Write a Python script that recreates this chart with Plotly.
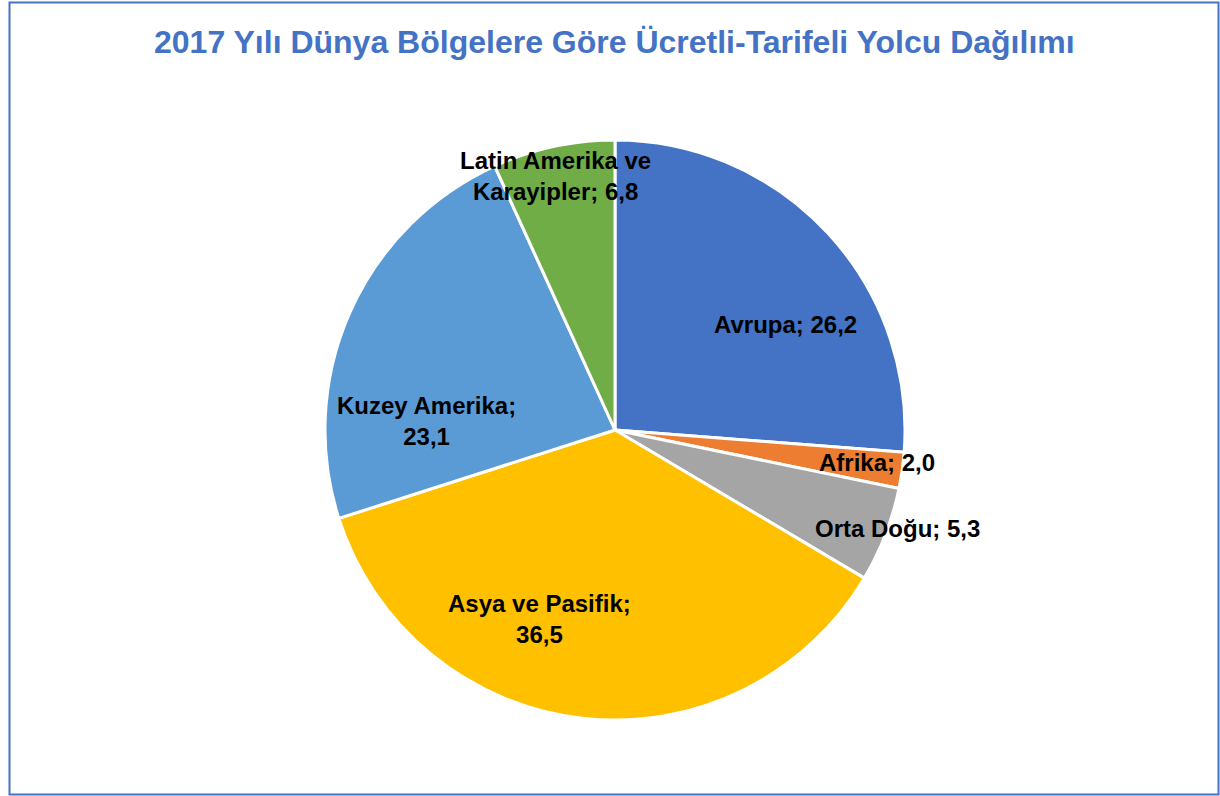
import math
import plotly.graph_objects as go

# Data
regions = ["Avrupa", "Afrika", "Orta Doğu", "Asya ve Pasifik", "Kuzey Amerika", "Latin Amerika ve Karayipler"]
label_texts = ["Avrupa; 26,2", "Afrika; 2,0", "Orta Doğu; 5,3", "Asya ve Pasifik;<br>36,5",
               "Kuzey Amerika;<br>23,1", "Latin Amerika ve<br>Karayipler; 6,8"]
values = [26.2, 2.0, 5.3, 36.5, 23.1, 6.8]
colors = ["#4472C4", "#ED7D31", "#A5A5A5", "#FFC000", "#5B9BD5", "#70AD47"]

# Label placement style (angle offset in degrees, radial fraction)
label_angle_offset = [11, -1, -2, 15.3, -21.2, -1]
label_radius = [0.69, 0.91, 1.03, 0.70, 0.65, 0.90]

W, H = 1220, 796
cx, cy, R = 615, 430, 290

fig = go.Figure(go.Pie(
    labels=regions, values=values, sort=False, direction="clockwise", rotation=0,
    marker=dict(colors=colors, line=dict(color="white", width=3)),
    textinfo="none", hoverinfo="label+value", showlegend=False,
    domain=dict(x=[(cx - R) / W, (cx + R) / W], y=[1 - (cy + R) / H, 1 - (cy - R) / H]),
))

total = sum(values)
cum = 0.0
annotations = []
for txt, v, da, rf in zip(label_texts, values, label_angle_offset, label_radius):
    mid = (cum + v / 2) / total * 360 + da
    cum += v
    th = math.radians(mid)
    px = cx + rf * R * math.sin(th)
    py = cy - rf * R * math.cos(th)
    annotations.append(dict(x=px / W, y=1 - py / H, xref="paper", yref="paper", text=txt,
                            showarrow=False, xanchor="center", yanchor="middle",
                            font=dict(family="Liberation Sans, Arial", size=24, color="black", weight="bold")))

annotations.append(dict(x=615 / W, y=1 - 42 / H, xref="paper", yref="paper",
                        text="<b>2017 Yılı Dünya Bölgelere Göre Ücretli-Tarifeli Yolcu Dağılımı</b>",
                        showarrow=False, xanchor="center", yanchor="middle",
                        font=dict(family="Liberation Sans, Arial", size=32, color="#4472C4")))

fig.update_layout(
    width=W, height=H, margin=dict(l=0, r=0, t=0, b=0),
    paper_bgcolor="white", plot_bgcolor="white",
    annotations=annotations,
    shapes=[dict(type="rect", xref="paper", yref="paper",
                 x0=9.5 / W, x1=1218.5 / W, y0=1 - 794.5 / H, y1=1 - 2.5 / H,
                 line=dict(color="#4472C4", width=2))],
)
fig.write_html("out.html", config={"displayModeBar": False},
               post_script="document.body.style.margin='0';document.body.style.overflow='hidden';")
